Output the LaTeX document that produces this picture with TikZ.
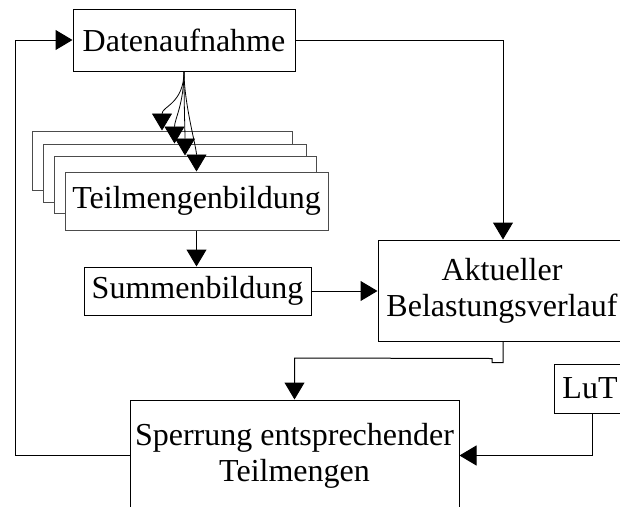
\documentclass[tikz,border=0pt]{standalone}
\usepackage{fontspec}
\setmainfont{Liberation Serif}
\usetikzlibrary{arrows.meta,calc}
\begin{document}
\begin{tikzpicture}[x=1pt,y=-1pt,
  box/.style={draw=black,line width=1pt,fill=white,inner sep=0pt,
    font=\fontsize{32}{36}\selectfont,align=center},
  stackbox/.style={box,draw=black!70},
  ln/.style={draw=black,line width=1pt},
  arr/.style={ln,-{Triangle[length=17pt,width=20pt]}},
  fan/.style={draw=black,line width=0.8pt,-{Triangle[length=17pt,width=20pt]}},
]
\useasboundingbox (0,0) rectangle (620,506);
\clip (0,0) rectangle (620,506);
\node[box,minimum width=222pt,minimum height=62pt] (dat) at (184,40) {Datenaufnahme};
\node[stackbox,minimum width=260pt,minimum height=59pt] (b1) at (162,160.5) {};
\node[stackbox,minimum width=263pt,minimum height=58pt] (b2) at (174.5,173) {};
\node[stackbox,minimum width=262pt,minimum height=57pt] (b3) at (185,184.5) {};
\node[stackbox,minimum width=263pt,minimum height=58pt] (b4) at (196.5,201) {Teilmengenbildung};
\node[box,minimum width=227pt,minimum height=48pt] (sum) at (197.5,291) {Summenbildung};
\node[box,minimum width=248pt,minimum height=101pt] (akt) at (502,290.5) {Aktueller\\Belastungsverlauf};
\node[box,minimum width=329pt,minimum height=111pt] (sp) at (294.5,455.5) {Sperrung entsprechender\\Teilmengen};
\node[box,minimum width=72pt,minimum height=49pt] (lut) at (590,388.5) {LuT};
\coordinate (lp) at (15,0);
\coordinate (j) at (0,358);
% feedback loop
\draw[arr] (sp.west) -- (sp.west -| lp) -- (dat.west -| lp) -- (dat.west);
% Datenaufnahme -> Aktueller
\draw[arr] (dat.east) -| ([xshift=1pt]akt.north);
% fan to stacked boxes
\foreach \b in {b1,b2,b3,b4}
  \draw[fan] (dat.south) .. controls +(0,32) and +(0,-24) .. (\b.north);
% Teilmengenbildung -> Summenbildung
\draw[arr] (b4.south) -- (b4.south |- sum.north);
% Summenbildung -> Aktueller
\draw[arr] (sum.east) -- (sum.east -| akt.west);
% Aktueller -> Sperrung
\draw[arr] ([xshift=1pt]akt.south) -- ++(0,21) -- ++(-11,0) -- ++(0,-4) -- (sp.north |- j) -- (sp.north);
% LuT -> Sperrung
\draw[arr] ([xshift=2pt]lut.south) |- (sp.east);
\end{tikzpicture}
\end{document}
